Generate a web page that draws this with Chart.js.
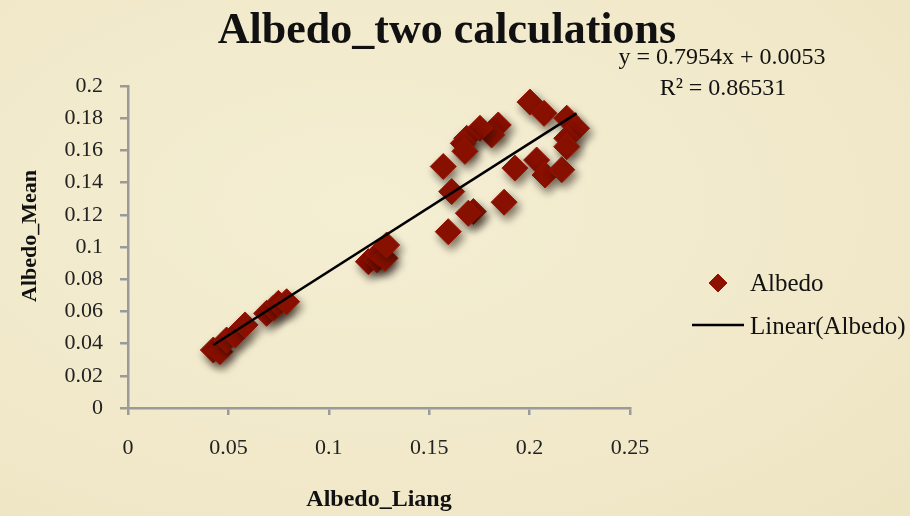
<!DOCTYPE html>
<html>
<head>
<meta charset="utf-8">
<script src="https://cdn.jsdelivr.net/npm/chart.js@4.4.1/dist/chart.umd.min.js"></script>
<style>
  html, body { margin: 0; padding: 0; background: #f2ebcd; }
  #wrap { width: 910px; height: 516px; position: relative;
    background: radial-gradient(ellipse at 40% 40%, #f4eed3 0%, #f1e9ca 60%, #ede4c2 100%); }
</style>
</head>
<body>
<div id="wrap"><canvas id="c" width="910" height="516"></canvas></div>
<script>
// ---- data ----
const titleText = 'Albedo_two calculations';
const xAxisTitle = 'Albedo_Liang';
const yAxisTitle = 'Albedo_Mean';
const seriesName = 'Albedo';
const trendName = 'Linear(Albedo)';
const albedoLiang = [
  0.0425, 0.0458, 0.0491, 0.0533, 0.0583,
  0.0690, 0.0724, 0.0749, 0.0790,
  0.1197, 0.1240, 0.1247, 0.1280, 0.1288,
  0.2002, 0.2072, 0.2185, 0.2234, 0.2185, 0.2185,
  0.2035, 0.2077, 0.2160, 0.1927, 0.1873,
  0.1844, 0.1811, 0.1753, 0.1687, 0.1670, 0.1678,
  0.1570, 0.1612, 0.1720, 0.1695, 0.1595
];
const albedoMean = [
  0.0360, 0.0350, 0.0422, 0.0453, 0.0516,
  0.0588, 0.0620, 0.0650, 0.0660,
  0.0909, 0.0920, 0.0960, 0.0930, 0.1012,
  0.1900, 0.1830, 0.1800, 0.1737, 0.1675, 0.1623,
  0.1540, 0.1447, 0.1480, 0.1490, 0.1278,
  0.1758, 0.1696, 0.1737, 0.1675, 0.1644, 0.1594,
  0.1500, 0.1344, 0.1220, 0.1210, 0.1095
];
const trendSlope = 0.7954;
const trendIntercept = 0.0053;
const rSquared = 0.86531;
const equationText = 'y = 0.7954x + 0.0053';
const r2Text = 'R\u00B2 = 0.86531';
const xTicks = [0, 0.05, 0.1, 0.15, 0.2, 0.25];
const yTicks = [0, 0.02, 0.04, 0.06, 0.08, 0.1, 0.12, 0.14, 0.16, 0.18, 0.2];

// ---- build ----
const points = albedoLiang.map((x, i) => ({ x: x, y: albedoMean[i] }));
const xMin = Math.min(...albedoLiang), xMax = Math.max(...albedoLiang);
const trendPoints = [xMin, xMax].map(x => ({ x: x, y: trendSlope * x + trendIntercept }));

const SERIF = '"Liberation Serif", "Times New Roman", serif';
const markerFill = '#8c1100';
const markerBorder = '#951505';
const axisGray = '#9a9a9a';

const shadowPlugin = {
  id: 'shadow',
  beforeDatasetDraw(chart, args) {
    if (args.meta.type === 'scatter') {
      const ctx = chart.ctx;
      ctx.save();
      ctx.shadowColor = 'rgba(30,15,0,0.55)';
      ctx.shadowBlur = 8;
      ctx.shadowOffsetX = 3;
      ctx.shadowOffsetY = 5;
    }
  },
  afterDatasetDraw(chart, args) {
    if (args.meta.type === 'scatter') chart.ctx.restore();
  }
};

const textPlugin = {
  id: 'texts',
  afterDraw(chart) {
    const ctx = chart.ctx;
    ctx.save();
    ctx.fillStyle = '#111';
    ctx.textBaseline = 'alphabetic';
    // title
    ctx.font = 'bold 44px ' + SERIF;
    ctx.textAlign = 'center';
    ctx.fillText(titleText, 447, 43);
    // equation
    ctx.font = '24px ' + SERIF;
    ctx.textAlign = 'center';
    ctx.fillText(equationText, 722, 64);
    ctx.fillText(r2Text, 723, 95);
    // y axis title
    ctx.save();
    ctx.translate(30, 236);
    ctx.rotate(-Math.PI / 2);
    ctx.font = 'bold 22px ' + SERIF;
    ctx.textAlign = 'center';
    ctx.textBaseline = 'middle';
    ctx.fillText(yAxisTitle, 0, 0);
    ctx.restore();
    // legend
    const ds = chart.data.datasets;
    const sc = ds.find(d => d.type === 'scatter');
    const ln = ds.find(d => d.type === 'line');
    ctx.beginPath();
    const cx = 718, cy = 283, r = 9;
    ctx.moveTo(cx - r, cy); ctx.lineTo(cx, cy - r); ctx.lineTo(cx + r, cy); ctx.lineTo(cx, cy + r);
    ctx.closePath();
    ctx.fillStyle = sc.backgroundColor; ctx.fill();
    ctx.strokeStyle = sc.borderColor; ctx.lineWidth = 1; ctx.stroke();
    ctx.beginPath();
    ctx.moveTo(692, 325); ctx.lineTo(744, 325);
    ctx.strokeStyle = ln.borderColor; ctx.lineWidth = 2.5; ctx.stroke();
    ctx.fillStyle = '#111';
    ctx.font = '25px ' + SERIF;
    ctx.textAlign = 'left';
    ctx.textBaseline = 'middle';
    ctx.fillText(sc.label, 750, 284);
    ctx.fillText(ln.label, 750, 327);
    ctx.restore();
  }
};

new Chart(document.getElementById('c'), {
  data: {
    datasets: [
      {
        type: 'line',
        label: trendName,
        data: trendPoints,
        borderColor: '#000',
        borderWidth: 2.5,
        pointRadius: 0,
        fill: false,
        order: 0
      },
      {
        type: 'scatter',
        label: seriesName,
        data: points,
        pointStyle: 'rectRot',
        pointRadius: 13,
        pointHoverRadius: 13,
        backgroundColor: markerFill,
        borderColor: markerBorder,
        borderWidth: 1,
        order: 1
      }
    ]
  },
  options: {
    responsive: false,
    animation: false,
    devicePixelRatio: 1,
    layout: { padding: { left: 0, right: 280, top: 86, bottom: 0 } },
    plugins: {
      legend: { display: false },
      title: { display: false },
      tooltip: { enabled: false }
    },
    scales: {
      x: {
        type: 'linear',
        min: 0, max: 0.25,
        afterBuildTicks(scale) { scale.ticks = xTicks.map(v => ({ value: v })); },
        afterFit(scale) { scale.height = 108; },
        ticks: {
          color: '#222',
          font: { family: SERIF, size: 22 },
          padding: 20,
          callback: v => String(v)
        },
        grid: { drawOnChartArea: false, drawTicks: true, tickLength: 7, color: axisGray, lineWidth: 2.5 },
        border: { color: axisGray, width: 2.5 },
        title: {
          display: true, text: xAxisTitle, color: '#111',
          font: { family: SERIF, size: 24, weight: 'bold' },
          padding: { top: 0, bottom: 2 }
        }
      },
      y: {
        type: 'linear',
        min: 0, max: 0.2,
        afterBuildTicks(scale) { scale.ticks = yTicks.map(v => ({ value: v })); },
        afterFit(scale) { scale.width = 128; },
        ticks: {
          color: '#222',
          font: { family: SERIF, size: 22 },
          padding: 17,
          callback: v => String(v)
        },
        grid: { drawOnChartArea: false, drawTicks: true, tickLength: 8, color: axisGray, lineWidth: 2.5 },
        border: { color: axisGray, width: 2.5 },
        title: { display: false }
      }
    }
  },
  plugins: [shadowPlugin, textPlugin]
});
</script>
</body>
</html>
